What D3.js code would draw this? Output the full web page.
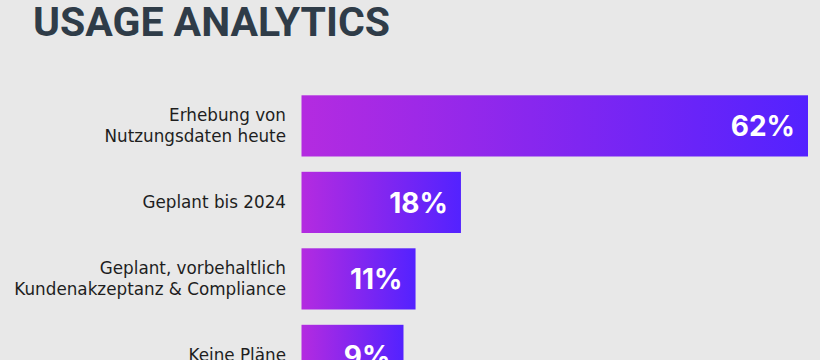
<!DOCTYPE html>
<html><head><meta charset="utf-8">
<script src="https://cdn.jsdelivr.net/npm/d3@7"></script>
<style>html,body{margin:0;padding:0;background:#e8e8e8;overflow:hidden}</style>
</head><body>
<svg id="chart" width="820" height="360"></svg>
<script>
const title = "USAGE ANALYTICS";
const categories = [
  ["Erhebung von", "Nutzungsdaten heute"],
  ["Geplant bis 2024"],
  ["Geplant, vorbehaltlich", "Kundenakzeptanz & Compliance"],
  ["Keine Pläne"]
];
const values = [62, 18, 11, 9];
const valueLabels = ["62%", "18%", "11%", "9%"];

const svg = d3.select("#chart");
svg.append("rect").attr("width", 820).attr("height", 360).attr("fill", "#e8e8e8");

const defs = svg.append("defs");
const grad = defs.append("linearGradient").attr("id", "barGrad")
  .attr("x1", "0%").attr("x2", "100%").attr("y1", "0%").attr("y2", "0%");
grad.append("stop").attr("offset", "0%").attr("stop-color", "#b42be0");
grad.append("stop").attr("offset", "100%").attr("stop-color", "#5322ff");

svg.append("text")
  .attr("x", 33).attr("y", 36)
  .attr("font-family", "Roboto, sans-serif").attr("font-weight", 700)
  .attr("font-size", 41).attr("fill", "#2f3c48")
  .attr("textLength", 357).attr("lengthAdjust", "spacingAndGlyphs")
  .text(title);

const idx = d3.range(values.length);
const x0 = 301.5;
const y = d3.scaleBand().domain(idx).range([95.3, 95.3 + 76.5 * 3.8]).paddingInner(0.2).paddingOuter(0);
const x = d3.scalePow().exponent(1.2).domain([0, 62]).range([x0 + 57.7, 808]);

const g = svg.append("g");
g.selectAll("rect.bar").data(idx).join("rect").attr("class", "bar")
  .attr("x", x0).attr("y", i => y(i))
  .attr("width", i => x(values[i]) - x0).attr("height", y.bandwidth())
  .attr("fill", "url(#barGrad)");

g.selectAll("text.val").data(idx).join("text").attr("class", "val")
  .attr("x", i => x(values[i]) - 13)
  .attr("y", i => y(i) + y.bandwidth() / 2 + 10.5)
  .attr("text-anchor", "end")
  .attr("font-family", "Inter, Roboto, sans-serif").attr("font-weight", 700)
  .attr("font-size", 28).attr("fill", "#ffffff")
  .text(i => valueLabels[i]);

const lh = 21;
g.selectAll("text.cat").data(idx).join("text").attr("class", "cat")
  .attr("text-anchor", "end")
  .attr("font-family", "'DejaVu Sans', sans-serif")
  .attr("font-size", 16.8).attr("fill", "#1e1e1e")
  .each(function(i) {
    const lines = categories[i];
    const cy = y(i) + y.bandwidth() / 2;
    const start = cy + 6 - (lines.length - 1) * lh / 2;
    d3.select(this).selectAll("tspan").data(lines).join("tspan")
      .attr("x", 286).attr("y", (d, k) => start + k * lh).text(d => d);
  });
</script>
</body></html>
